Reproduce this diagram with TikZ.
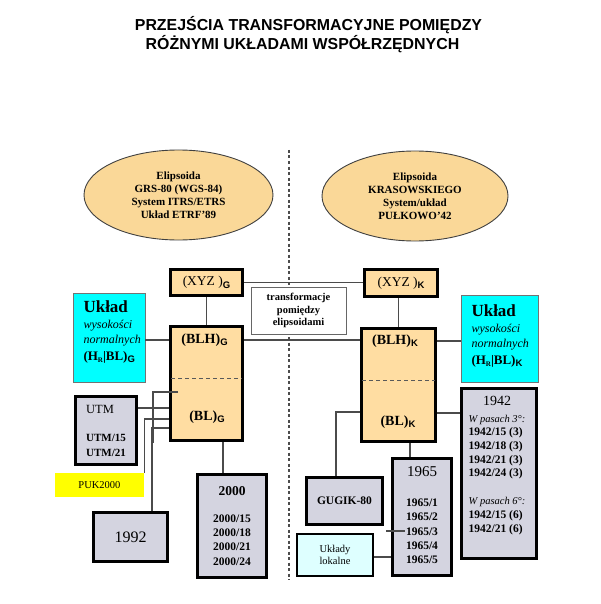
\documentclass[tikz,border=0pt]{standalone}
\usepackage{fontspec}
\setmainfont{Liberation Serif}
\newfontfamily\arialfont{Liberation Sans}
\usetikzlibrary{shapes.geometric, positioning, calc}

\definecolor{elipsa}{RGB}{250,216,152}
\definecolor{pomarancz}{RGB}{255,221,162}
\definecolor{turkus}{RGB}{0,255,255}
\definecolor{bladyturkus}{RGB}{222,255,255}
\definecolor{siatka}{RGB}{212,212,224}
\definecolor{zolty}{RGB}{255,255,0}
\definecolor{linia}{RGB}{75,75,75}

\newcommand{\rozm}[2]{\fontsize{#1}{#2}\selectfont}
\newcommand{\dolny}[1]{\raisebox{-2.5pt}{\arialfont\bfseries\rozm{9.5}{10}#1}}

\begin{document}
\begin{tikzpicture}[x=1pt, y=-1pt,
    elipsoida/.style={ellipse, draw=black!75, line width=0.9pt, fill=elipsa, inner sep=0pt, align=center, font=\bfseries\rozm{11}{13}},
    gruby/.style={draw=black, line width=3pt, inner sep=0pt},
    ramka/.style={gruby, fill=pomarancz},
    rejon/.style={gruby, fill=siatka},
    wysokosc/.style={draw=black!55, line width=0.8pt, fill=turkus, inner sep=0pt},
    polaczenie/.style={draw=linia, line width=1.2pt},
    kreski/.style={draw=black!65, line width=1pt, dash pattern=on 4pt off 3pt},
    granica/.style={draw=black!70, line width=1.3pt, dash pattern=on 3pt off 2.5pt},
    tytul/.style={font=\arialfont\bfseries\rozm{15.9}{18}, anchor=base},
    uklad/.style={font=\bfseries\rozm{14}{16}}
  ]
            \useasboundingbox (0,0) rectangle (601,604);
            \fill[white] (0,0) rectangle (601,604);

            \node[tytul] (tytul1) at (308.5,30.5) {PRZEJŚCIA TRANSFORMACYJNE POMIĘDZY};
            \node[tytul] (tytul2) at (302.5,49.5) {RÓŻNYMI UKŁADAMI WSPÓŁRZĘDNYCH};

            \coordinate (granicaG) at (289,150);
            \coordinate (granicaD) at (289,580);
            \draw[granica] (granicaG) -- (granicaD);

            \node[elipsoida, minimum width=189, minimum height=90] (elG) at (178.5,195) {Elipsoida\\GRS-80 (WGS-84)\\System ITRS/ETRS\\Układ ETRF’89};
            \node[elipsoida, minimum width=186, minimum height=90] (elK) at (415,196) {Elipsoida\\KRASOWSKIEGO\\System/układ\\PUŁKOWO’42};

            \node[ramka, minimum width=72, minimum height=26, font=\rozm{13.5}{15}] (xyzG) at (206.5,282.5) {(XYZ )\dolny{G}};
            \node[ramka, minimum width=73, minimum height=27, font=\rozm{13.5}{15}] (xyzK) at (401,283) {(XYZ )\dolny{K}};

            \node[draw=black!60, line width=0.8pt, fill=white, minimum width=95, minimum height=47, align=center, font=\bfseries\rozm{10.5}{12.5}] (transf) at (298.5,310.5) {transformacje\\pomiędzy\\elipsoidami};

            \node[ramka, minimum width=72, minimum height=114] (boxG) at (206.5,383.5) {};
            \node[ramka, minimum width=74, minimum height=113] (boxK) at (398.5,385) {};
            \draw[kreski, shorten <=2pt, shorten >=2pt] (boxG.west |- 0,378) -- (boxG.east |- 0,378);
            \draw[kreski, shorten <=2pt, shorten >=2pt] (boxK.west |- 0,380) -- (boxK.east |- 0,380);
            \node[uklad] (blhG) at (204.5,340) {(BLH)\dolny{G}};
            \node[uklad] (blG) at (207,417) {(BL)\dolny{G}};
            \node[uklad] (blhK) at (395,341) {(BLH)\dolny{K}};
            \node[uklad] (blK) at (398,422) {(BL)\dolny{K}};

            \node[wysokosc, minimum width=72, minimum height=89] (hG) at (109,337.5) {};
            \node[anchor=west, align=left, font=\rozm{12}{15}] (opisHG) at (80,332) {{\bfseries\rozm{17}{19}Układ}\\[1pt]{\itshape wysokości}\\{\itshape normalnych}\\[2pt]{\bfseries\rozm{13}{15}(H\raisebox{-2pt}{\rozm{7}{8}R}|BL)\dolny{G}}};
            \node[wysokosc, minimum width=77, minimum height=87] (hK) at (499.5,338.5) {};
            \node[anchor=west, align=left, font=\rozm{12}{15}] (opisHK) at (468,336) {{\bfseries\rozm{17}{19}Układ}\\[1pt]{\itshape wysokości}\\{\itshape normalnych}\\[2pt]{\bfseries\rozm{13}{15}(H\raisebox{-2pt}{\rozm{7}{8}R}|BL)\dolny{K}}};

            \node[rejon, minimum width=61, minimum height=68, align=left, font=\bfseries\rozm{11}{15}] (utm) at (106,430.5) {{\mdseries\rozm{12.5}{15}UTM}\\[13pt]UTM/15\\UTM/21};
            \node[fill=zolty, minimum width=89, minimum height=24, inner sep=0pt, font=\rozm{10.5}{12}] (puk) at (99.5,485) {PUK2000};
            \node[rejon, minimum width=74, minimum height=49, font=\rozm{16}{18}] (r1992) at (130.5,537) {1992};
            \node[rejon, minimum width=69, minimum height=103, align=center, font=\bfseries\rozm{11.5}{14.3}] (r2000) at (232,526) {{\rozm{13.5}{15}2000}\\[12pt]2000/15\\2000/18\\2000/21\\2000/24};

            \node[rejon, minimum width=75, minimum height=170] (r1942) at (499,473.5) {};
            \node[font=\bfseries\rozm{11.5}{13.7}] (t1942) at (497,466) {\begin{tabular}{@{}l@{}}\multicolumn{1}{@{}c@{}}{\mdseries\rozm{14}{16}1942}\\[3pt]{\mdseries\itshape\rozm{10.5}{12}W pasach 3°:}\\1942/15 (3)\\1942/18 (3)\\1942/21 (3)\\1942/24 (3)\\[14pt]{\mdseries\itshape\rozm{10.5}{12}W pasach 6°:}\\1942/15 (6)\\1942/21 (6)\end{tabular}};
            \node[rejon, minimum width=59, minimum height=117, font=\bfseries\rozm{11.5}{14.3}] (r1965) at (422,517) {\begin{tabular}{@{}l@{}}\multicolumn{1}{@{}c@{}}{\mdseries\rozm{15}{17}1965}\\[16pt]1965/1\\1965/2\\1965/3\\1965/4\\1965/5\end{tabular}};
            \node[rejon, minimum width=76, minimum height=47, font=\bfseries\rozm{11.5}{13}] (gugik) at (344.5,501) {GUGIK-80};
            \node[draw=black, line width=2pt, fill=bladyturkus, minimum width=76, minimum height=42, inner sep=0pt, align=left, font=\rozm{10.5}{12.5}] (lokalne) at (335,555) {Układy\\lokalne};

            \draw[polaczenie] (xyzG.east) -- (xyzG.east -| xyzK.west);
            \draw[polaczenie] (xyzG.south) -- (boxG.north);
            \draw[polaczenie] (boxK.north) -- (boxK.north |- xyzK.south);
            \draw[polaczenie] (hG.east |- blhG) -- (boxG.west |- blhG);
            \draw[polaczenie] (boxG.east |- blhG) -- (boxK.west |- blhG);
            \draw[polaczenie] (boxK.east |- blhK) -- (hK.west |- blhK);

            \draw[polaczenie] (utm.east |- 0,408) -- (boxG.west |- 0,408);
            \draw[polaczenie] (boxG.west |- 0,419) -| (puk.north east);
            \draw[polaczenie] (boxG.west |- 0,428) -| (r1992.north -| 152,0);
            \coordinate (odgA) at (178,392);
            \coordinate (odgB) at (153,443);
            \draw[polaczenie] (odgA) -| (odgB);
            \draw[polaczenie] (boxG.south -| 223,0) -- (r2000.north -| 223,0);

            \draw[polaczenie] (boxK.west |- 0,412) -| (gugik.north -| 336,0);
            \draw[polaczenie] (boxK.east |- 0,413) -- (r1942.west |- 0,413);
            \draw[polaczenie] (boxK.south -| 410,0) -- (r1965.north -| 410,0);
            \draw[polaczenie] (lokalne.east |- 0,557) -- (r1965.west |- 0,557);
            \coordinate (odgC) at (386,531);
            \coordinate (odgD) at (405,531);
            \draw[polaczenie] (odgC) -- (odgD);
          \end{tikzpicture}
\end{document}
